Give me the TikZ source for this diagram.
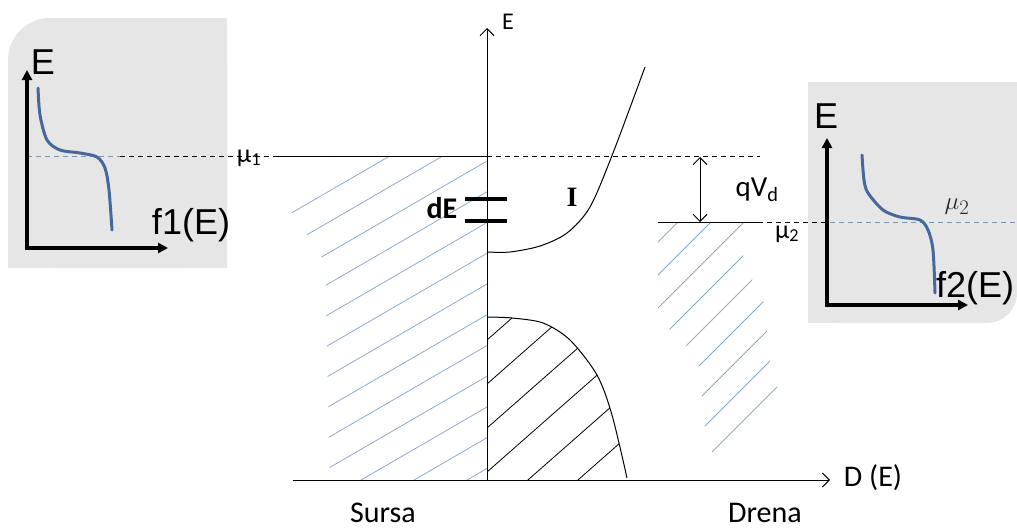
\documentclass[tikz,border=0pt]{standalone}
\usepackage{fontspec}
\setmainfont{Carlito}
\newfontfamily\arialfont{Liberation Sans}
\newfontfamily\seriffont{Liberation Serif}
\usetikzlibrary{arrows.meta}
\definecolor{panelgray}{HTML}{E6E6E6}
\definecolor{curveblue}{HTML}{44699A}
\definecolor{hatchblue}{HTML}{8FAACB}
\definecolor{dashblue}{HTML}{8093AD}

\tikzset{
  lbl/.style={inner sep=0pt, font=\fontsize{30}{30}\selectfont},
  panellbl/.style={inner sep=0pt, font=\arialfont\fontsize{36}{36}\selectfont},
  paxis/.style={line width=3.2pt, {Triangle[length=10pt,width=10pt]}-{Triangle[length=10pt,width=10pt]}},
  fermi/.style={curveblue, line width=3pt, line cap=round},
  hatchb/.style={hatchblue, line width=0.8pt},
  barb/.style={-{Straight Barb[length=7pt,width=14pt]}},
  dashlvl/.style={dash pattern=on 5pt off 4pt},
}

\begin{document}
\begin{tikzpicture}[x=1pt, y=-1pt, line width=1pt]
  \useasboundingbox (0,0) rectangle (1017,530);

  % source panel
  \fill[panelgray, rounded corners=42pt] (8,18) rectangle (227,268);
  \fill[panelgray] (8,100) rectangle (227,268);
  \fill[panelgray] (100,18) rectangle (227,268);
  % drain panel
  \fill[panelgray, rounded corners=30pt] (808,82) rectangle (1017,323);
  \fill[panelgray] (808,82) rectangle (1017,260);
  \fill[panelgray] (808,82) rectangle (950,323);

  % hatched occupied states
  \begin{scope}
    \clip (278,192) -- (336,157) -- (487,157) -- (487,480) -- (330,480) -- (325,262) -- cycle;
    \foreach \k in {-2,...,14}
      \draw[hatchb] ({335+53*\k},157) -- ++(-700,406);
  \end{scope}
  \begin{scope}
    \clip (658,222) -- (750,222) -- (743,255) -- (755,287) -- (767,308) -- (767,352) -- (777,383)
      -- (777,417) -- (713,480) -- (712,448) -- (702,417) -- (702,373) -- (692,352) -- (670,330)
      -- (658,308) -- cycle;
    \foreach \k in {-1,...,14}
      \draw[hatchb] ({678+33*\k},222) -- ++(-400,400);
  \end{scope}
  \begin{scope}
    \clip plot[smooth] coordinates {(487,317) (512,318) (543,323) (570,340) (597,375) (612,415) (627,478)}
      -- (627,480) -- (487,480) -- cycle;
    \foreach \k in {0,...,6}
      \draw[line width=0.8pt] (487,{340+44*\k}) -- ++(300,-264);
  \end{scope}

  % levels
  \coordinate (mu1a) at (27,156);
  \coordinate (mu1m) at (120,156);
  \coordinate (mu1b) at (275,156);
  \coordinate (top0) at (487,156);
  \coordinate (mu1c) at (760,156);
  \draw[dashblue, dashlvl] (mu1a) -- (mu1m);
  \draw[dashlvl] (mu1m) -- (mu1b);
  \draw (mu1b) -- (top0);
  \draw[dashlvl] (top0) -- (mu1c);
  \node[lbl, font=\fontsize{26}{26}\selectfont] (mu1) at (249,158) {μ\textsubscript{1}};

  \coordinate (mu2a) at (658,222);
  \coordinate (mu2b) at (758,222);
  \coordinate (mu2m) at (830,222);
  \coordinate (mu2c) at (1017,222);
  \draw (mu2a) -- (mu2b);
  \draw[dashlvl] (mu2b) -- (mu2m);
  \draw[dashblue, dashlvl] (mu2m) -- (mu2c);
  \node[lbl, font=\fontsize{26}{26}\selectfont] (mu2) at (787,234) {μ\textsubscript{2}};

  \coordinate (qa) at (700,157);
  \coordinate (qb) at (700,222);
  \draw[{Straight Barb[length=7pt,width=14pt]}-{Straight Barb[length=7pt,width=14pt]}] (qa) -- (qb);
  \node[lbl, font=\fontsize{29}{29}\selectfont] (qvd) at (757,190) {qV\textsubscript{d}};

  % main axes
  \coordinate (O) at (487,480);
  \coordinate (Etip) at (487,28);
  \coordinate (Dstart) at (293,480);
  \coordinate (Dtip) at (830,480);
  \draw[barb] (O) -- (Etip);
  \draw[barb] (Dstart) -- (Dtip);
  \node[lbl, font=\fontsize{24}{24}\selectfont] (Elbl) at (508,22) {E};
  \node[lbl] (Dlbl) at (873,478) {D (E)};
  \node[lbl] (sursa) at (383,513) {Sursa};
  \node[lbl] (drena) at (765,513) {Drena};

  % energy slice and current
  \draw[line width=4pt] (465,199) -- (507,199);
  \draw[line width=4pt] (465,221) -- (507,221);
  \node[lbl, font=\bfseries\fontsize{30}{30}\selectfont] (dE) at (442,208) {dE};
  \node[lbl, font=\seriffont\bfseries\fontsize{28}{28}\selectfont] (I) at (572,197) {I};
  \draw plot[smooth] coordinates {(487,252) (510,252) (540,246) (567,233) (590,207) (613,153) (645,67)};
  \draw plot[smooth] coordinates {(487,317) (512,318) (543,323) (570,340) (597,375) (612,415) (627,478)};

  % Fermi functions
  \coordinate (l0) at (27,248);
  \coordinate (ltop) at (27,70);
  \coordinate (lright) at (168,248);
  \draw[paxis] (ltop) -- (l0) -- (lright);
  \draw[fermi] plot[smooth] coordinates {(38,88) (40,115) (47,140) (60,150) (80,153) (97,157) (105,168) (109,190) (112,230)};
  \node[panellbl] (E1) at (43,62) {E};
  \node[panellbl] (f1) at (191,225) {f1(E)};

  \coordinate (r0) at (827,305);
  \coordinate (rtop) at (827,138);
  \coordinate (rright) at (968,305);
  \draw[paxis] (rtop) -- (r0) -- (rright);
  \draw[fermi] plot[smooth] coordinates {(862,155) (864,180) (868,193) (883,210) (900,217) (920,220) (928,230) (933,250) (935,293)};
  \node[panellbl] (E2) at (826,116) {E};
  \node[panellbl] (f2) at (975,288) {f2(E)};
  \node[inner sep=0pt, text=black!85, font=\fontsize{30}{30}\selectfont] (mu2p) at (957,207) {$\mu_2$};
\end{tikzpicture}
\end{document}
